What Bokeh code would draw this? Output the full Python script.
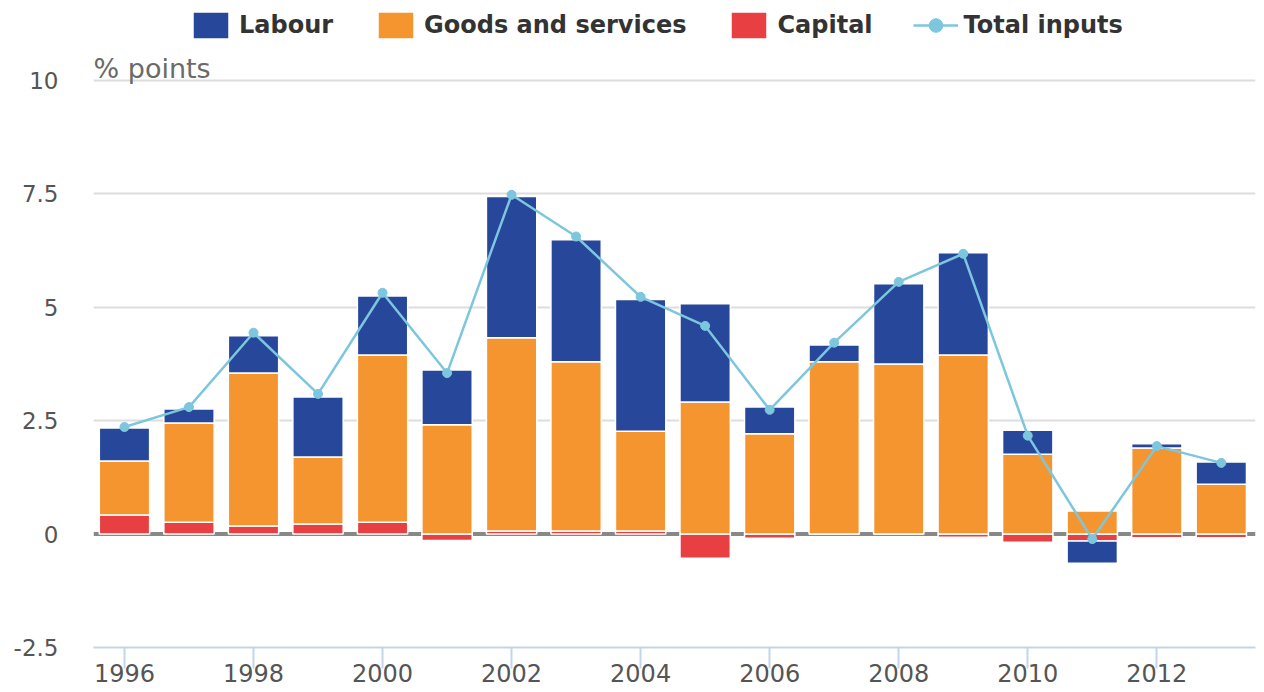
from bokeh.plotting import figure
from bokeh.layouts import column
from bokeh.models import (ColumnDataSource, Range1d, FixedTicker, Legend, LegendItem,
                          Span, Label, CustomJSTickFormatter)
from bokeh.embed import file_html
from bokeh.resources import INLINE

years = list(range(1996, 2014))
capital = [0.42, 0.26, 0.18, 0.22, 0.26, -0.14, 0.07, 0.07, 0.07, -0.53,
           -0.09, 0.0, 0.0, -0.07, -0.18, -0.15, -0.08, -0.08]
goods = [1.19, 2.19, 3.37, 1.48, 3.69, 2.41, 4.26, 3.73, 2.20, 2.91,
         2.21, 3.80, 3.75, 3.95, 1.76, 0.51, 1.90, 1.10]
labour = [0.73, 0.31, 0.82, 1.32, 1.30, 1.21, 3.11, 2.69, 2.90, 2.17,
          0.59, 0.37, 1.77, 2.25, 0.53, -0.49, 0.09, 0.49]
total = [2.36, 2.80, 4.44, 3.09, 5.32, 3.55, 7.48, 6.56, 5.23, 4.59,
         2.74, 4.22, 5.56, 6.18, 2.17, -0.11, 1.94, 1.57]
y_ticks = [-2.5, 0, 2.5, 5, 7.5, 10]
x_ticks = [1996, 1998, 2000, 2002, 2004, 2006, 2008, 2010, 2012]
series_names = ["Labour", "Goods and services", "Capital", "Total inputs"]
unit_label = "% points"

FONT = "DejaVu Sans"
C_LAB = "#27479a"
C_GOODS = "#f5952f"
C_CAP = "#e84042"
C_TOT = "#7cc7de"

# stacked bottoms/tops with separate positive and negative stacks
pos = [0.0] * len(years)
neg = [0.0] * len(years)
stacks = {}
for name, vals in (("cap", capital), ("goods", goods), ("lab", labour)):
    b, t = [], []
    for i, v in enumerate(vals):
        if v >= 0:
            b.append(pos[i]); t.append(pos[i] + v); pos[i] += v
        else:
            b.append(neg[i]); t.append(neg[i] + v); neg[i] += v
    stacks[name] = (b, t)

src = ColumnDataSource(dict(
    x=years,
    cap_b=stacks["cap"][0], cap_t=stacks["cap"][1],
    goods_b=stacks["goods"][0], goods_t=stacks["goods"][1],
    lab_b=stacks["lab"][0], lab_t=stacks["lab"][1],
    total=total,
))

W = 0.78
BAR_LINE = dict(line_color="white", line_width=1.5)
X0, X1 = 1995.52, 2013.53

# ---------------- legend strip (its view range shows none of the data) ----------------
lg = figure(width=1262, height=46, output_backend="svg", toolbar_location=None,
            x_range=Range1d(X0, X1), y_range=Range1d(100, 101),
            x_axis_type=None, y_axis_type=None, min_border=0)
lg.outline_line_color = None
lg.xgrid.visible = False
lg.ygrid.visible = False
l_lab = lg.vbar(x="x", bottom="lab_b", top="lab_t", width=W, source=src, fill_color=C_LAB, **BAR_LINE)
l_goods = lg.vbar(x="x", bottom="goods_b", top="goods_t", width=W, source=src, fill_color=C_GOODS, **BAR_LINE)
l_cap = lg.vbar(x="x", bottom="cap_b", top="cap_t", width=W, source=src, fill_color=C_CAP, **BAR_LINE)
l_line = lg.line(x="x", y="total", source=src, line_color=C_TOT, line_width=2.5)
l_pts = lg.scatter(x="x", y="total", source=src, size=9, fill_color=C_TOT, line_color=C_TOT)
legend = Legend(items=[
    LegendItem(label=series_names[0], renderers=[l_lab]),
    LegendItem(label=series_names[1], renderers=[l_goods]),
    LegendItem(label=series_names[2], renderers=[l_cap]),
    LegendItem(label=series_names[3], renderers=[l_line, l_pts]),
], orientation="horizontal", location=(95, 4),
    glyph_width=45, glyph_height=34, label_standoff=6, spacing=40,
    padding=0, margin=0,
    label_text_font=FONT, label_text_font_style="bold",
    label_text_font_size="24px", label_text_color="#333333",
    border_line_color=None, background_fill_alpha=0)
lg.add_layout(legend, "center")

# ---------------- main chart ----------------
p = figure(width=1262, height=646, output_backend="svg", toolbar_location=None,
           x_range=Range1d(X0, X1), y_range=Range1d(-2.5, 10.617),
           min_border_left=93, min_border_right=7, min_border_top=6,
           min_border_bottom=45)
p.outline_line_color = None
p.background_fill_color = "white"

p.add_layout(Label(x=X0, y=y_ticks[-1], text=unit_label, y_offset=12,
                   text_align="left", text_baseline="alphabetic",
                   text_font=FONT, text_font_size="27px", text_color="#6a6a6a"))

# zero line behind bars
p.add_layout(Span(location=0, dimension="width", line_color="#888888",
                  line_width=4, level="underlay"))

p.vbar(x="x", bottom="cap_b", top="cap_t", width=W, source=src, fill_color=C_CAP, **BAR_LINE)
p.vbar(x="x", bottom="goods_b", top="goods_t", width=W, source=src, fill_color=C_GOODS, **BAR_LINE)
p.vbar(x="x", bottom="lab_b", top="lab_t", width=W, source=src, fill_color=C_LAB, **BAR_LINE)
p.line(x="x", y="total", source=src, line_color=C_TOT, line_width=2.5)
p.scatter(x="x", y="total", source=src, size=9, fill_color=C_TOT, line_color=C_TOT)

# grid
p.xgrid.visible = False
p.ygrid.ticker = FixedTicker(ticks=[t for t in y_ticks if t != 0])
p.ygrid.grid_line_color = "#dddddd"
p.ygrid.grid_line_width = 2

# y axis
ya = p.yaxis[0]
ya.ticker = FixedTicker(ticks=y_ticks)
ya.formatter = CustomJSTickFormatter(code="return tick.toString();")
ya.axis_line_color = None
ya.major_tick_line_color = None
ya.minor_tick_line_color = None
ya.major_tick_out = 0
ya.major_tick_in = 0
ya.major_label_standoff = 35
ya.major_label_text_font = FONT
ya.major_label_text_font_size = "23px"
ya.major_label_text_color = "#555555"

# x axis
xa = p.xaxis[0]
xa.ticker = FixedTicker(ticks=x_ticks)
xa.axis_line_color = "#c5d5e8"
xa.axis_line_width = 2
xa.major_tick_line_color = "#c5d5e8"
xa.major_tick_line_width = 2
xa.major_tick_out = 21
xa.major_tick_in = 0
xa.minor_tick_line_color = None
xa.major_label_standoff = -5
xa.major_label_text_font = FONT
xa.major_label_text_font_size = "24px"
xa.major_label_text_color = "#555555"

open("out.html", "w").write(file_html(column(lg, p), INLINE))
